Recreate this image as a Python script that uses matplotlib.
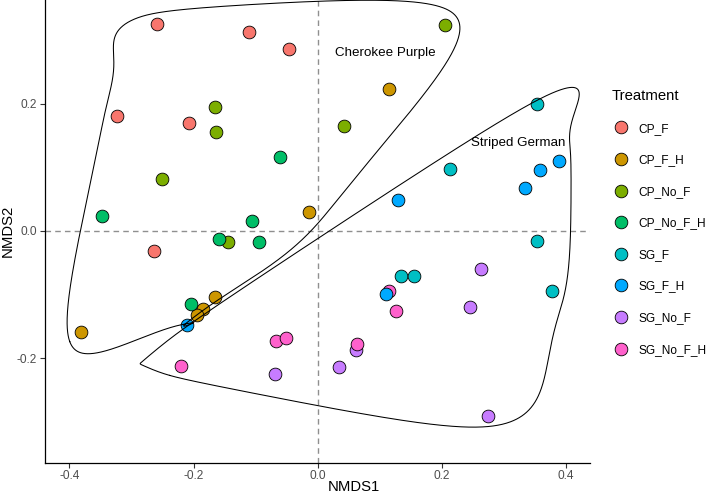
import numpy as np
import matplotlib
matplotlib.use("Agg")
import matplotlib.pyplot as plt
from matplotlib.lines import Line2D

plt.rcParams['font.family'] = ['Liberation Sans', 'DejaVu Sans']
plt.rcParams['axes.unicode_minus'] = False

# ---------------- data ----------------
treatments = ['CP_F', 'CP_F_H', 'CP_No_F', 'CP_No_F_H',
              'SG_F', 'SG_F_H', 'SG_No_F', 'SG_No_F_H']
colors = ['#F8766D', '#CD9600', '#7CAE00', '#00BE67',
          '#00BFC4', '#00A9FF', '#C77CFF', '#FF61CC']

cp_f_x = [-0.259, -0.111, -0.046, -0.323, -0.208, -0.264]
cp_f_y = [0.324, 0.312, 0.285, 0.181, 0.170, -0.032]
cp_f_h_x = [-0.014, 0.115, -0.165, -0.185, -0.194, -0.382]
cp_f_h_y = [0.030, 0.223, -0.1035, -0.123, -0.131, -0.159]
cp_no_f_x = [-0.165, -0.163, -0.251, 0.205, 0.042, -0.145]
cp_no_f_y = [0.194, 0.155, 0.081, 0.323, 0.164, -0.018]
cp_no_f_h_x = [-0.061, -0.348, -0.106, -0.159, -0.095, -0.204]
cp_no_f_h_y = [0.116, 0.0235, 0.016, -0.013, -0.018, -0.115]
sg_f_x = [0.354, 0.214, 0.353, 0.134, 0.155, 0.378]
sg_f_y = [0.199, 0.098, -0.015, -0.070, -0.070, -0.094]
sg_f_h_x = [0.130, 0.390, 0.359, 0.335, -0.210, 0.111]
sg_f_h_y = [0.049, 0.110, 0.096, 0.067, -0.147, -0.099]
sg_no_f_x = [0.264, 0.245, 0.062, 0.034, 0.274, -0.068]
sg_no_f_y = [-0.060, -0.120, -0.187, -0.213, -0.290, -0.224]
sg_no_f_h_x = [-0.067, -0.051, -0.221, 0.115, 0.126, 0.064]
sg_no_f_h_y = [-0.172, -0.168, -0.212, -0.094, -0.125, -0.178]

xs_all = [cp_f_x, cp_f_h_x, cp_no_f_x, cp_no_f_h_x, sg_f_x, sg_f_h_x, sg_no_f_x, sg_no_f_h_x]
ys_all = [cp_f_y, cp_f_h_y, cp_no_f_y, cp_no_f_h_y, sg_f_y, sg_f_h_y, sg_no_f_y, sg_no_f_h_y]

cultivar_prefix = ['CP', 'SG']
cultivar_names = ['Cherokee Purple', 'Striped German']

x_ticks = [-0.4, -0.2, 0.0, 0.2, 0.4]
y_ticks = [-0.2, 0.0, 0.2]


# ---------------- helpers ----------------
def convex_hull(pts):
    pts = sorted(set(map(tuple, pts)))
    def cross(o, a, b):
        return (a[0]-o[0])*(b[1]-o[1]) - (a[1]-o[1])*(b[0]-o[0])
    lower, upper = [], []
    for p in pts:
        while len(lower) >= 2 and cross(lower[-2], lower[-1], p) <= 0:
            lower.pop()
        lower.append(p)
    for p in reversed(pts):
        while len(upper) >= 2 and cross(upper[-2], upper[-1], p) <= 0:
            upper.pop()
        upper.append(p)
    return np.array(lower[:-1] + upper[:-1])


def _g(u, q):
    return u*(q + u*(2*q + u*(8 - 12*q + u*(14*q - 11 + u*(4 - 5*q)))))


def _h(u, q):
    return u*(q + u*(2*q + u*u*(-2*q - u*q)))


def _f(n, d):
    p = 2*d*d
    n = n/d
    return n**3*(10 - p + (2*p - 15)*n + (6 - p)*n*n)


def xspline_closed(px, py, shape, steps=300):
    N = len(px)
    t = np.linspace(0, 1, steps, endpoint=False)
    X, Y = [], []
    for k in range(N):
        i0, i1, i2, i3 = (k-1) % N, k, (k+1) % N, (k+2) % N
        if shape < 0:
            q = -shape
            A0 = _h(-t, q)
            A2 = _g(t, q)
            A1 = _g(1-t, q)
            A3 = _h(t-1, q)
        else:
            s = shape
            A0 = np.where(t < s, _f(t - s, -1 - s), 0.0)
            A2 = _f(t + s, 1 + s)
            A1 = _f(t - 1 - s, -1 - s)
            A3 = np.where(t > 1 - s, _f(t - 1 + s, 1 + s), 0.0)
        w = A0 + A1 + A2 + A3
        X.append((A0*px[i0] + A1*px[i1] + A2*px[i2] + A3*px[i3])/w)
        Y.append((A0*py[i0] + A1*py[i1] + A2*py[i2] + A3*py[i3])/w)
    X = np.concatenate(X); Y = np.concatenate(Y)
    return np.append(X, X[0]), np.append(Y, Y[0])


# ---------------- figure ----------------
W, H = 708, 496
fig = plt.figure(figsize=(W/100, H/100), dpi=100)
ax = fig.add_axes([45/W, (H-462.7)/H, 545/W, 462.7/H])
xlim = (-0.4395, 0.4392)
ylim = (-0.3635, 0.3624)
ax.set_xlim(*xlim)
ax.set_ylim(*ylim)

ax.axhline(0, color='#8f8f8f', lw=1.0, ls=(0, (4, 3)), zorder=1)
ax.axvline(0, color='#8f8f8f', lw=1.0, ls=(0, (4, 3)), zorder=1)

draw_order = [0, 1, 2, 3, 4, 6, 7, 5]
for i in draw_order:
    ax.scatter(xs_all[i], ys_all[i], s=84, c=colors[i], edgecolors='black',
               linewidths=0.6, zorder=3)

# encircling hulls (convex hull, expanded, X-spline)
expand = 0.02
ex = expand*(xlim[1]-xlim[0])
ey = expand*(ylim[1]-ylim[0])
for pre in cultivar_prefix:
    gx = np.concatenate([xs_all[i] for i, t in enumerate(treatments) if t.startswith(pre)])
    gy = np.concatenate([ys_all[i] for i, t in enumerate(treatments) if t.startswith(pre)])
    mx, my = gx.mean(), gy.mean()
    hull = convex_hull(np.column_stack([gx, gy]))
    hx = hull[:, 0] + np.sign(hull[:, 0]-mx)*ex
    hy = hull[:, 1] + np.sign(hull[:, 1]-my)*ey
    cx, cy = xspline_closed(hx, hy, -0.5)
    ax.plot(cx, cy, color='black', lw=0.75, zorder=4)

ax.text(0.109, 0.279, cultivar_names[0], fontsize=9.6, ha='center', va='center', color='black')
ax.text(0.3236, 0.1376, cultivar_names[1], fontsize=9.6, ha='center', va='center', color='black')

for sp in ['top', 'right']:
    ax.spines[sp].set_visible(False)
for sp in ['left', 'bottom']:
    ax.spines[sp].set_linewidth(0.9)
    ax.spines[sp].set_color('black')

ax.set_xticks(x_ticks)
ax.set_xticklabels([f'{v:.1f}' for v in x_ticks])
ax.set_yticks(y_ticks)
ax.set_yticklabels([f'{v:.1f}' for v in y_ticks])
ax.tick_params(axis='both', length=3.5, width=0.8, color='#333333',
               labelsize=8.6, labelcolor='#4D4D4D', pad=2)
ax.set_xlabel('NMDS1', fontsize=10.7)
ax.set_ylabel('NMDS2', fontsize=10.7)
ax.xaxis.set_label_coords(0.5, (H - 487) / H, transform=fig.transFigure)
ax.yaxis.set_label_coords(8 / W, (H - 231) / H, transform=fig.transFigure)
ax.xaxis.label.set_va('center')
ax.yaxis.label.set_va('center')

handles = [Line2D([], [], ls='none', marker='o', markersize=9.1,
                  markerfacecolor=c, markeredgecolor='black', markeredgewidth=0.6)
           for c in colors]
leg = fig.legend(handles, treatments, loc='upper left',
                 bbox_to_anchor=(612/W, 1-89/H), frameon=False,
                 title='Treatment', title_fontsize=10.7, fontsize=8.6,
                 handlelength=1.5, handletextpad=0.7, labelspacing=1.64,
                 borderpad=0, borderaxespad=0, alignment='left')

fig.savefig('out.png', dpi=100)
